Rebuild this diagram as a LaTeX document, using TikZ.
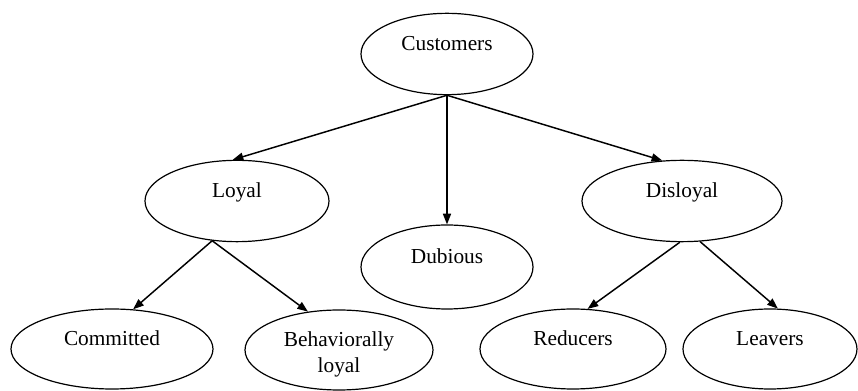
\documentclass[tikz,border=0pt]{standalone}
\usepackage{fontspec}
\setmainfont{Liberation Serif}
\usetikzlibrary{shapes.geometric,arrows.meta}
\tikzset{
  oval/.style={ellipse, draw, line width=0.9pt, inner sep=0pt, minimum height=61pt,
    font=\fontsize{16}{19.5}\selectfont, text height=5pt, text depth=9.5pt},
  link/.style={line width=1.1pt, -{Triangle[length=8pt,width=6pt]}}
}
\begin{document}
\begin{tikzpicture}[x=0.75pt,y=0.75pt,yscale=-1,xscale=1]
    \useasboundingbox (0,0) rectangle (858,391);
    \node [oval, minimum width=129pt] (cust) at (447,54) {Customers};
    \node [oval, minimum width=138pt] (loyal) at (237,201) {Loyal};
    \node [oval, minimum width=129pt, minimum height=63pt] (dub) at (447,267) {Dubious};
    \node [oval, minimum width=150pt] (disl) at (682,201) {Disloyal};
    \node [oval, minimum width=151.5pt, minimum height=60pt] (comm) at (112,349) {Committed};
    \node [oval, minimum width=141pt, minimum height=60pt] (behav) at (339,350) {\begin{tabular}[t]{@{}c@{}}Behaviorally\\loyal\end{tabular}};
    \node [oval, minimum width=139.5pt, minimum height=60pt] (red) at (573,349) {Reducers};
    \node [oval, minimum width=130.5pt, minimum height=60pt] (leav) at (770,349) {Leavers};
    \draw [link] (cust.south) -- (loyal.96);
    \draw [link] (cust.south) -- (dub.north);
    \draw [link] (cust.south) -- (disl.116);
    \draw [link] (loyal.238) -- (comm.62);
    \draw [link] (loyal.238) -- (behav.129);
    \draw [link] (disl.267) -- (red.70);
    \draw [link] (disl.294) -- (leav.79);
\end{tikzpicture}
\end{document}
